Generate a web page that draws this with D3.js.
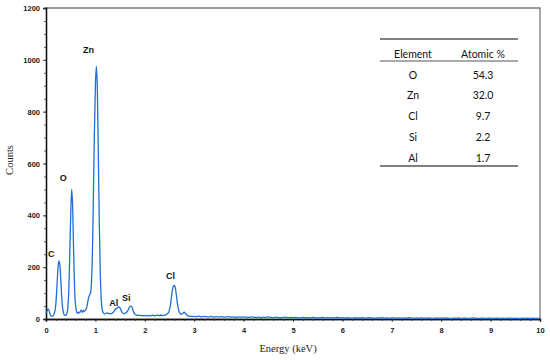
<!DOCTYPE html>
<html>
<head>
<meta charset="utf-8">
<script src="https://cdn.jsdelivr.net/npm/d3@7"></script>
<style>
  body { margin: 0; background: #fff; }
  svg { display: block; }
  .tick-label { font-family: "Liberation Sans", Arial, sans-serif; font-size: 7.5px; font-weight: bold; fill: #222; }
  .axis-title { font-family: "Liberation Serif", "Times New Roman", serif; font-size: 10.5px; fill: #222; }
  .peak { font-family: "Liberation Sans", Arial, sans-serif; font-size: 9px; font-weight: bold; fill: #111; }
  .tbl { font-family: Lato, "Open Sans", sans-serif; font-size: 10.5px; fill: #111; }
</style>
</head>
<body>
<svg id="chart" width="550" height="360"></svg>
<script>
  // spectrum counts, 0.00 - 3.00 keV, 0.02 keV per channel
  var lowStep = 0.02;
  var lowCounts = [
    22, 30, 38, 34, 20, 12, 10, 12, 18, 30,
    60, 120, 190, 224, 210, 150, 80, 38, 20, 14,
    14, 20, 40, 100, 240, 400, 500, 430, 250, 110,
    50, 28, 22, 26, 24, 30, 34, 26, 32, 30,
    36, 42, 60, 80, 92, 100, 140, 260, 480, 720,
    900, 975, 880, 620, 360, 170, 70, 34, 24, 20,
    20, 22, 24, 22, 20, 22, 20, 22, 26, 30,
    36, 40, 42, 46, 47, 42, 34, 26, 22, 20,
    22, 24, 28, 34, 42, 48, 50, 46, 34, 24,
    18, 16, 15, 14, 15, 14, 13, 14, 12, 13,
    14, 12, 13, 12, 14, 13, 12, 14, 15, 13,
    12, 14, 13, 15, 14, 13, 16, 14, 13, 15,
    14, 16, 18, 22, 24, 36, 55, 85, 112, 126,
    130, 118, 90, 60, 38, 26, 20, 18, 20, 24,
    26, 22, 18, 14, 12, 11, 10, 11, 9, 10,
    10
  ];
  // spectrum counts, 3.05 - 10.00 keV, 0.05 keV per channel
  var highStart = 3.05;
  var highStep = 0.05;
  var highCounts = [
    9, 11, 8, 10, 9, 8, 10, 7, 9, 8, 9, 7, 8, 9, 7, 8, 6, 8, 7, 8,
    7, 6, 8, 7, 6, 7, 5, 7, 6, 8, 6, 5, 7, 6, 5, 6, 7, 5, 6, 5,
    6, 5, 4, 6, 5, 5, 4, 6, 5, 4, 5, 6, 4, 5, 4, 5, 4, 6, 4, 5,
    4, 5, 4, 3, 5, 4, 4, 5, 3, 4, 5, 4, 3, 4, 4, 5, 3, 4, 3, 4,
    4, 3, 4, 3, 4, 3, 5, 3, 3, 4, 3, 4, 3, 3, 4, 3, 2, 4, 3, 3,
    3, 4, 3, 2, 3, 3, 4, 2, 3, 3, 2, 3, 4, 3, 2, 3, 3, 2, 3, 3,
    2, 3, 3, 2, 3, 2, 3, 3, 2, 3, 2, 2, 3, 2, 3, 2, 3, 2, 2, 3
  ];

  var peakNames = ["C", "O", "Zn", "Al", "Si", "Cl"];
  var peakEnergy = [0.04, 0.28, 0.75, 1.28, 1.54, 2.43];
  var peakLabelCount = [250, 544, 1040, 62, 80, 168];

  var tableElements = ["O", "Zn", "Cl", "Si", "Al"];
  var tableAtomic = ["54.3", "32.0", "9.7", "2.2", "1.7"];

  var xTicks = [0, 1, 2, 3, 4, 5, 6, 7, 8, 9, 10];
  var yTicks = [0, 200, 400, 600, 800, 1000, 1200];

  var margin = { left: 46, top: 8, right: 10, bottom: 41 };
  var W = 550, H = 360;
  var svg = d3.select("#chart");

  var x = d3.scaleLinear().domain([0, 10]).range([margin.left, W - margin.right]);
  var y = d3.scaleLinear().domain([0, 1200]).range([H - margin.bottom, margin.top]);

  var spectrum = lowCounts.map(function (c, i) { return { e: i * lowStep, c: c }; })
    .concat(highCounts.map(function (c, i) { return { e: highStart + i * highStep, c: c }; }));

  // frame (top + right, grey)
  svg.append("path")
    .attr("d", "M" + x(0) + "," + y(1200) + "H" + x(10) + "V" + y(0))
    .attr("fill", "none")
    .attr("stroke", "#7a7a7a")
    .attr("stroke-width", 1.3);

  // x axis
  var xAxis = d3.axisBottom(x).tickValues(xTicks).tickSize(3).tickFormat(d3.format("d"));
  var gx = svg.append("g").attr("transform", "translate(0," + y(0) + ")").call(xAxis);
  gx.append("g").call(d3.axisBottom(x).tickValues(d3.range(0, 10.01, 0.2)).tickSize(2).tickFormat(""));

  // y axis
  var yAxis = d3.axisLeft(y).tickValues(yTicks).tickSize(3).tickFormat(d3.format("d"));
  var gy = svg.append("g").attr("transform", "translate(" + x(0) + ",0)").call(yAxis);
  gy.append("g").call(d3.axisLeft(y).tickValues(d3.range(0, 1201, 50)).tickSize(2).tickFormat(""));

  [gx, gy].forEach(function (g) {
    g.selectAll(".domain").attr("stroke", "#111").attr("stroke-width", 1.3);
    g.selectAll("line").attr("stroke", "#333").attr("stroke-width", 0.8);
    g.selectAll("text").attr("class", "tick-label");
  });
  gx.selectAll(".tick text").attr("dy", "1.1em");
  gy.selectAll(".tick text").attr("x", -6).attr("dy", "0.35em");

  // spectrum line
  var line = d3.line()
    .x(function (d) { return x(d.e); })
    .y(function (d) { return y(d.c); })
    .curve(d3.curveMonotoneX);

  svg.append("path")
    .datum(spectrum)
    .attr("d", line)
    .attr("fill", "none")
    .attr("stroke", "#1f6fd2")
    .attr("stroke-width", 1.3)
    .attr("stroke-linejoin", "round");

  // peak labels
  svg.selectAll(".peak")
    .data(peakNames)
    .enter()
    .append("text")
    .attr("class", "peak")
    .attr("x", function (d, i) { return x(peakEnergy[i]); })
    .attr("y", function (d, i) { return y(peakLabelCount[i]); })
    .attr("dy", "0.35em")
    .text(function (d) { return d; });

  // axis titles
  svg.append("text")
    .attr("class", "axis-title")
    .attr("x", x(4.9))
    .attr("y", 352)
    .attr("text-anchor", "middle")
    .text("Energy  (keV)");

  svg.append("text")
    .attr("class", "axis-title")
    .attr("transform", "translate(13,160) rotate(-90)")
    .attr("text-anchor", "middle")
    .text("Counts");

  // composition table
  var tX0 = 380, tX1 = 518, col1 = 413, col2 = 483;
  var rowY = d3.scaleBand().domain(d3.range(tableElements.length)).range([65, 169]);

  var table = svg.append("g");
  [39, 61, 166].forEach(function (ly, i) {
    table.append("line")
      .attr("x1", tX0).attr("x2", tX1)
      .attr("y1", ly).attr("y2", ly)
      .attr("stroke", "#555")
      .attr("stroke-width", i === 1 ? 1 : 1.4);
  });
  table.append("text").attr("class", "tbl").attr("x", col1).attr("y", 54)
    .attr("text-anchor", "middle").attr("dy", "0.35em").text("Element");
  table.append("text").attr("class", "tbl").attr("x", col2).attr("y", 54)
    .attr("text-anchor", "middle").attr("dy", "0.35em").text("Atomic %");

  var rows = table.selectAll(".row")
    .data(tableElements)
    .enter()
    .append("g")
    .attr("class", "row")
    .attr("transform", function (d, i) { return "translate(0," + (rowY(i) + rowY.bandwidth() / 2 - 0.5) + ")"; });
  rows.append("text").attr("class", "tbl").attr("x", col1).attr("text-anchor", "middle")
    .attr("dy", "0.35em").text(function (d) { return d; });
  rows.append("text").attr("class", "tbl").attr("x", col2).attr("text-anchor", "middle")
    .attr("dy", "0.35em").text(function (d, i) { return tableAtomic[i]; });
</script>
</body>
</html>
